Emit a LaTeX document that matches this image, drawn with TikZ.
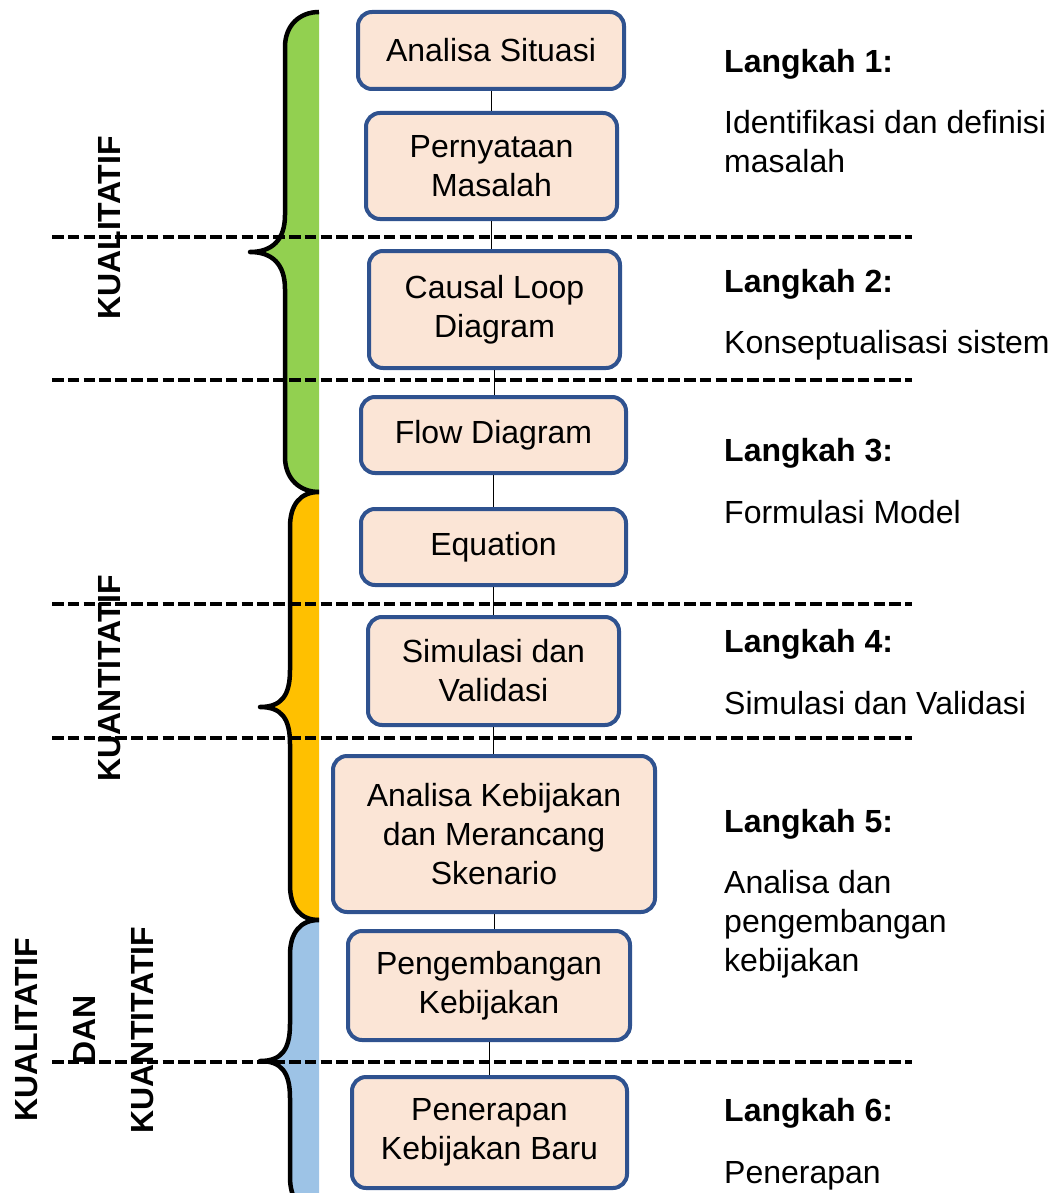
\documentclass[tikz,border=0pt]{standalone}
\usepackage{fontspec}
\setmainfont{Liberation Sans}
\usetikzlibrary{calc}
\definecolor{boxfill}{HTML}{FBE5D6}
\definecolor{boxline}{HTML}{2F528F}
\definecolor{kualgreen}{HTML}{92D050}
\definecolor{kuanorange}{HTML}{FFC000}
\definecolor{mixblue}{HTML}{9DC3E6}
\tikzset{
  langkah/.style={draw=boxline, fill=boxfill, line width=4pt, rounded corners=14pt,
    align=center, inner sep=0pt, font=\fontsize{32}{39}\selectfont},
  ket/.style={anchor=base west, align=left, inner sep=0pt, font=\fontsize{32}{39}\selectfont},
  judul/.style={ket, font=\bfseries\fontsize{32}{39}\selectfont},
  batas/.style={line width=4pt, dash pattern=on 11.5pt off 4.3pt},
  kurung/.style={line width=4.5pt, line join=round},
  sisi/.style={rotate=90, align=center, inner sep=0pt, font=\bfseries\fontsize{32}{58}\selectfont},
}
% brace: top, bottom, spine x, tip x, tip y
\newcommand{\kurungpath}[5]{(319,#1) .. controls (300,#1) and (#3,#1+13) .. (#3,#1+35)
  -- (#3,#5-37) .. controls (#3,#5-12) and (#4+22,#5) .. (#4,#5)
  .. controls (#4+22,#5) and (#3,#5+12) .. (#3,#5+37)
  -- (#3,#2-35) .. controls (#3,#2-13) and (300,#2) .. (319,#2)}
\newcommand{\kurung}[6]{%
  \fill[#1] \kurungpath{#2}{#3}{#4}{#5}{#6} -- cycle;
  \draw[kurung] \kurungpath{#2}{#3}{#4}{#5}{#6};}
\begin{document}
\begin{tikzpicture}[x=1pt, y=-1pt]
  \useasboundingbox (0,0) rectangle (1057,1193);
  \clip (0,0) rectangle (1057,1193);
  % braces
  \kurung{kualgreen}{12}{492}{285}{250}{252}
  \kurung{kuanorange}{492}{920}{290}{260}{707}
  \kurung{mixblue}{920}{1212}{290}{260}{1061}
  % steps
  \node[langkah, minimum width=266pt, minimum height=77pt] (situasi) at (491,50.5) {Analisa Situasi};
  \node[langkah, minimum width=251pt, minimum height=106pt] (masalah) at (491.5,166) {Pernyataan\\Masalah};
  \node[langkah, minimum width=251pt, minimum height=117pt] (cld) at (494.5,309.5) {Causal Loop\\Diagram};
  \node[langkah, minimum width=265pt, minimum height=76pt] (flow) at (493.5,435) {Flow Diagram};
  \node[langkah, minimum width=265pt, minimum height=76pt] (equation) at (493.5,547) {Equation};
  \node[langkah, minimum width=251pt, minimum height=108pt] (simulasi) at (493.5,671) {Simulasi dan\\Validasi};
  \node[langkah, minimum width=322pt, minimum height=156pt] (skenario) at (494,834) {Analisa Kebijakan\\dan Merancang\\Skenario};
  \node[langkah, minimum width=282pt, minimum height=109pt] (pengembangan) at (489,985.5) {Pengembangan\\Kebijakan};
  \node[langkah, minimum width=275pt, minimum height=111pt] (penerapan) at (489.5,1132.5) {Penerapan\\Kebijakan Baru};
  \draw (situasi.south) -- (situasi.south |- masalah.north);
  \draw (masalah.south) -- (masalah.south |- cld.north);
  \draw (cld.south) -- (cld.south |- flow.north);
  \draw (flow.south) -- (flow.south |- equation.north);
  \draw (equation.south) -- (equation.south |- simulasi.north);
  \draw (simulasi.south) -- (simulasi.south |- skenario.north);
  \draw (skenario.south) -- (skenario.south |- pengembangan.north);
  \draw (pengembangan.south) -- (pengembangan.south |- penerapan.north);
  % stage borders
  \foreach \y in {237,380,604,738,1062}
    \draw[batas] (52,\y) -- (912,\y);
  % sides
  \node[sisi] (kual) at (110,228) {KUALITATIF};
  \node[sisi] (kuan) at (110,678) {KUANTITATIF};
  \node[sisi] (campur) at (85,1030) {KUALITATIF\\DAN\\KUANTITATIF};
  % descriptions
  \node[judul] (l1) at (724,73) {Langkah 1:};
  \node[ket] (k1) at (724,173) {Identifikasi dan definisi\\masalah};
  \node[judul] (l2) at (724,292) {Langkah 2:};
  \node[ket] (k2) at (724,353) {Konseptualisasi sistem};
  \node[judul] (l3) at (724,461) {Langkah 3:};
  \node[ket] (k3) at (724,523) {Formulasi Model};
  \node[judul] (l4) at (724,652) {Langkah 4:};
  \node[ket] (k4) at (724,714) {Simulasi dan Validasi};
  \node[judul] (l5) at (724,832) {Langkah 5:};
  \node[ket] (k5) at (724,971) {Analisa dan\\pengembangan\\kebijakan};
  \node[judul] (l6) at (724,1121) {Langkah 6:};
  \node[ket] (k6) at (724,1183) {Penerapan};
\end{tikzpicture}
\end{document}
